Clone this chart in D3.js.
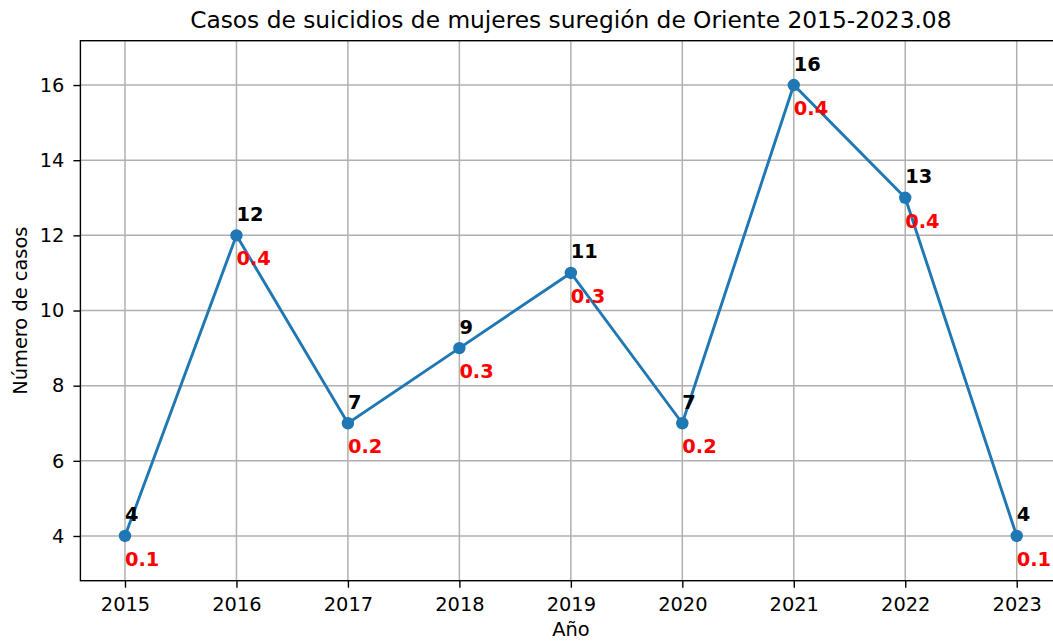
<!DOCTYPE html>
<html>
<head>
<meta charset="utf-8">
<script src="https://cdn.jsdelivr.net/npm/d3@7"></script>
<style>
  body { margin: 0; background: #fff; }
  svg { display: block; font-family: "DejaVu Sans", sans-serif; }
</style>
</head>
<body>
<div id="chart"></div>
<script>
// chart data
const years = [2015, 2016, 2017, 2018, 2019, 2020, 2021, 2022, 2023];
const cases = [4, 12, 7, 9, 11, 7, 16, 13, 4];
const rates = [0.1, 0.4, 0.2, 0.3, 0.3, 0.2, 0.4, 0.4, 0.1];
const yTicks = [4, 6, 8, 10, 12, 14, 16];

const width = 1053, height = 642;
const plot = { left: 80.4, right: 1061.3, top: 40.7, bottom: 580.7 };
const fs = '19.4px';

const svg = d3.select('#chart').append('svg')
    .attr('width', width)
    .attr('height', height);

const x = d3.scaleLinear().domain([2014.6, 2023.4]).range([plot.left, plot.right]);
const y = d3.scaleLinear().domain([2.81, 17.18]).range([plot.bottom, plot.top]);

// grid lines
svg.append('g').selectAll('line.vgrid')
    .data(years).enter().append('line')
    .attr('x1', d => x(d)).attr('x2', d => x(d))
    .attr('y1', plot.top).attr('y2', plot.bottom)
    .attr('stroke', '#b0b0b0').attr('stroke-width', 1.5);

svg.append('g').selectAll('line.hgrid')
    .data(yTicks).enter().append('line')
    .attr('x1', plot.left).attr('x2', plot.right)
    .attr('y1', d => y(d)).attr('y2', d => y(d))
    .attr('stroke', '#b0b0b0').attr('stroke-width', 1.5);

// axes
const xAxis = svg.append('g')
    .attr('transform', `translate(0,${plot.bottom})`)
    .call(d3.axisBottom(x).tickValues(years).tickFormat(d3.format('d')).tickSize(7).tickPadding(9.5));

const yAxis = svg.append('g')
    .attr('transform', `translate(${plot.left},0)`)
    .call(d3.axisLeft(y).tickValues(yTicks).tickSize(7).tickPadding(9));

[xAxis, yAxis].forEach(g => {
    g.select('.domain').remove();
    g.selectAll('line').attr('stroke', '#000').attr('stroke-width', 1.4);
    g.selectAll('text').attr('fill', '#000').style('font-size', fs).style('font-family', '"DejaVu Sans", sans-serif');
});

// spines
svg.append('rect')
    .attr('x', plot.left).attr('y', plot.top)
    .attr('width', plot.right - plot.left).attr('height', plot.bottom - plot.top)
    .attr('fill', 'none').attr('stroke', '#000').attr('stroke-width', 1.4);

// line + markers
const line = d3.line()
    .x((d, i) => x(years[i]))
    .y(d => y(d));

svg.append('path')
    .datum(cases)
    .attr('d', line)
    .attr('fill', 'none')
    .attr('stroke', '#1f77b4')
    .attr('stroke-width', 2.9);

svg.append('g').selectAll('circle')
    .data(cases).enter().append('circle')
    .attr('cx', (d, i) => x(years[i]))
    .attr('cy', d => y(d))
    .attr('r', 6.2)
    .attr('fill', '#1f77b4');

// labels: count above, rate below
svg.append('g').selectAll('text')
    .data(cases).enter().append('text')
    .attr('x', (d, i) => x(years[i]))
    .attr('y', d => y(d) - 14.5)
    .attr('font-size', fs)
    .attr('font-weight', 'bold')
    .attr('fill', '#000')
    .text(d => d);

svg.append('g').selectAll('text')
    .data(rates).enter().append('text')
    .attr('x', (d, i) => x(years[i]))
    .attr('y', (d, i) => y(cases[i]) + 30)
    .attr('font-size', fs)
    .attr('font-weight', 'bold')
    .attr('fill', 'red')
    .text(d => d);

// title and axis labels
svg.append('text')
    .attr('x', (plot.left + plot.right) / 2)
    .attr('y', 27.5)
    .attr('text-anchor', 'middle')
    .attr('font-size', '23.3px')
    .attr('fill', '#000')
    .text('Casos de suicidios de mujeres suregión de Oriente 2015-2023.08');

svg.append('text')
    .attr('x', (plot.left + plot.right) / 2)
    .attr('y', 636)
    .attr('text-anchor', 'middle')
    .attr('font-size', fs)
    .attr('fill', '#000')
    .text('Año');

svg.append('text')
    .attr('transform', `translate(27,${(plot.top + plot.bottom) / 2}) rotate(-90)`)
    .attr('text-anchor', 'middle')
    .attr('font-size', fs)
    .attr('fill', '#000')
    .text('Número de casos');
</script>
</body>
</html>
